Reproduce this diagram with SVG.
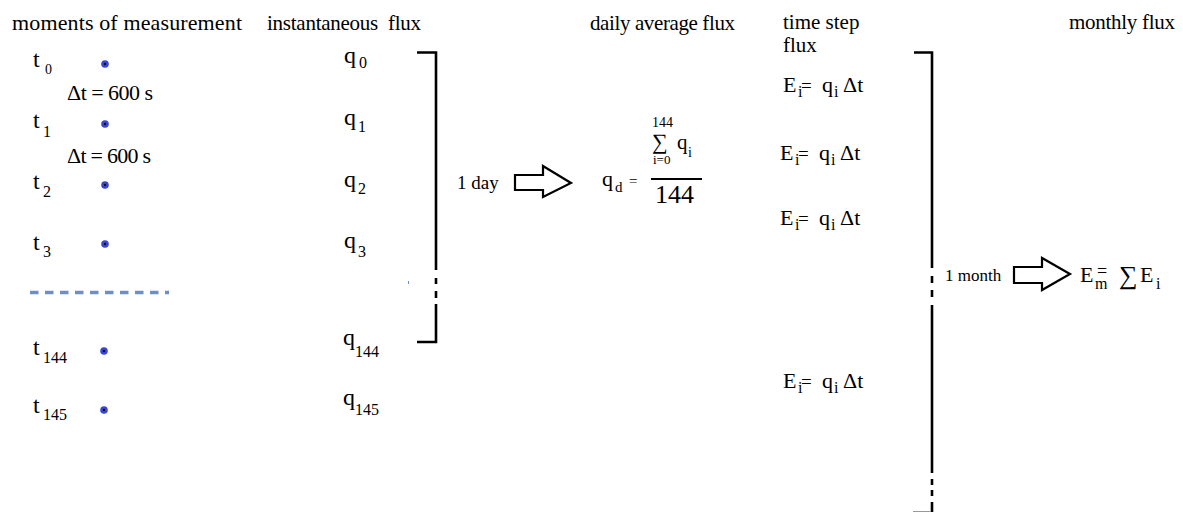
<svg xmlns="http://www.w3.org/2000/svg" width="1183" height="512" viewBox="0 0 1183 512" font-family="'Liberation Serif', 'Times New Roman', serif">
<style>
text{font-family:'Liberation Serif','Times New Roman',serif;fill:#000}
.h{font-size:21px}
.m{font-size:22px}
.v{font-size:24px}
.s{font-size:16px}
.br{fill:none;stroke:#000;stroke-width:2.6}
.arr{fill:#fff;stroke:#000;stroke-width:2.2;stroke-linejoin:miter}
.dot{fill:#3b46d2}
.dc{fill:#111}
</style>
<defs>
<g id="dotm"><circle class="dot" cx="0" cy="0" r="3.8"/><circle class="dc" cx="0" cy="0" r="1.2"/></g>
<g id="eq">
<text x="0" y="0" class="m">E</text>
<text x="15" y="5" class="s">i</text>
<text x="18" y="0" style="font-size:19px">=</text>
<text x="39" y="0" class="m">q</text>
<text x="51" y="5" class="s">i</text>
<text x="60" y="0" class="m">Δt</text>
</g>
</defs>
<rect width="1183" height="512" fill="#fff"/>

<g id="headers">
<text x="12" y="30" style="font-size:22px" textLength="230">moments of measurement</text>
<text x="267" y="30" class="h" xml:space="preserve" textLength="154">instantaneous  flux</text>
<text x="590" y="30" class="h" textLength="145">daily average flux</text>
<text x="783" y="29" class="h">time step</text>
<text x="783" y="52" class="h">flux</text>
<text x="1069" y="29" class="h" textLength="106">monthly flux</text>
</g>

<g id="times">
<g id="t0"><text x="33" y="67" class="v">t</text><text x="45" y="74" style="font-size:14px">0</text><use href="#dotm" x="105" y="64"/></g>
<g id="t1"><text x="33" y="128" class="v">t</text><text x="43" y="137" class="s">1</text><use href="#dotm" x="105" y="124"/></g>
<g id="t2"><text x="33" y="189" class="v">t</text><text x="43" y="197" class="s">2</text><use href="#dotm" x="105" y="185"/></g>
<g id="t3"><text x="33" y="250" class="v">t</text><text x="43" y="257" class="s">3</text><use href="#dotm" x="105" y="244"/></g>
<g id="t144"><text x="33" y="355" class="v">t</text><text x="43" y="363" class="s">144</text><use href="#dotm" x="104" y="351"/></g>
<g id="t145"><text x="33" y="413" class="v">t</text><text x="43" y="420" class="s">145</text><use href="#dotm" x="104" y="410"/></g>
<g id="dt"><text x="67" y="100" class="m" textLength="86">Δt = 600 s</text><text x="67" y="163" class="m" textLength="84">Δt = 600 s</text></g>
<line id="ellipsis" x1="30" y1="292.5" x2="169" y2="292.5" stroke="#6f8fc0" stroke-width="3.3" stroke-dasharray="8.5 6.5"/>
</g>

<g id="fluxes">
<g id="q0"><text x="344" y="63" class="v">q</text><text x="359" y="68" class="s">0</text></g>
<g id="q1"><text x="344" y="125" class="v">q</text><text x="358" y="132" class="s">1</text></g>
<g id="q2"><text x="344" y="187" class="v">q</text><text x="358" y="194" class="s">2</text></g>
<g id="q3"><text x="344" y="248" class="v">q</text><text x="358" y="257" class="s">3</text></g>
<g id="q144"><text x="343" y="345" class="v">q</text><text x="355" y="357" class="s">144</text></g>
<g id="q145"><text x="343" y="405" class="v">q</text><text x="355" y="415" class="s">145</text></g>
</g>

<g id="bracket-day">
<path class="br" d="M417,52.5 H436 V270"/>
<path class="br" d="M436,278 V284 M436,291 V298"/>
<path class="br" d="M436,304 V342 H417"/>
<rect x="408" y="281" width="1" height="3" fill="#6f8fc0"/>
</g>

<g id="daily">
<text x="457" y="189" style="font-size:19px">1 day</text>
<path class="arr" d="M515,175 H543 V166 L571,183 L543,197 V190 H515 Z"/>
<text x="602" y="186" style="font-size:22px">q</text>
<text x="615" y="192" style="font-size:15px">d</text>
<text x="629" y="186" style="font-size:15px">=</text>
<text x="652" y="127" style="font-size:14px">144</text>
<text x="652" y="149" style="font-size:22px">∑</text>
<text x="677" y="149" style="font-size:21px">q</text>
<text x="688" y="157" style="font-size:14px">i</text>
<text x="653" y="164" style="font-size:13px">i=0</text>
<line x1="651" y1="179" x2="702" y2="179" stroke="#000" stroke-width="1.8"/>
<text x="655" y="203" style="font-size:26px">144</text>
</g>

<g id="timestep">
<use href="#eq" x="783" y="92"/>
<use href="#eq" x="780" y="160"/>
<use href="#eq" x="780" y="225"/>
<use href="#eq" x="783" y="388"/>
</g>

<g id="bracket-month">
<path class="br" d="M914,52.5 H932 V268"/>
<path class="br" d="M932,276 V283 M932,290 V297"/>
<path class="br" d="M932,305 V473"/>
<path class="br" d="M932,479 V485 M932,490 V496 M932,502 V512"/>
<line x1="913" y1="511.5" x2="931" y2="511.5" stroke="#999" stroke-width="1"/>
</g>

<g id="monthly">
<text x="945" y="281" style="font-size:17px">1 month</text>
<path class="arr" d="M1014,267 H1042 V258 L1070,274 L1042,290 V283 H1014 Z"/>
<text x="1080" y="282" class="m">E</text>
<text x="1095" y="289" class="s">m</text>
<text x="1097" y="277" style="font-size:18px">=</text>
<text x="1119" y="284" style="font-size:26px">∑</text>
<text x="1140" y="282" class="m">E</text>
<text x="1156" y="289" class="s">i</text>
</g>

<g id="connectors"></g>
</svg>
